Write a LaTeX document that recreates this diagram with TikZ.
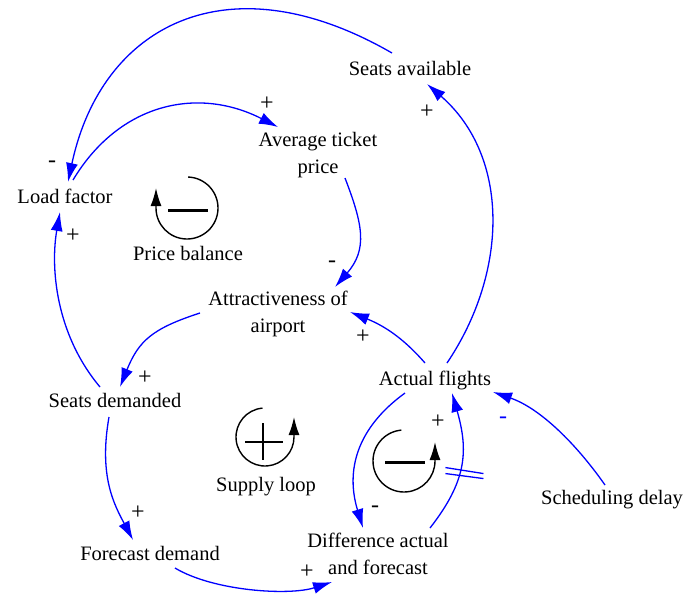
\documentclass[tikz,border=0pt]{standalone}
\usepackage{fontspec}
\setmainfont{Liberation Serif}
\usetikzlibrary{arrows.meta,calc}

\begin{document}
\begin{tikzpicture}[x=1pt, y=1pt,
    var/.style={align=center, inner sep=0pt, font=\fontsize{20.5}{27}\selectfont},
    sign/.style={inner sep=0pt, font=\fontsize{24}{26}\selectfont},
    link/.style={blue, line width=1.3pt, -{Latex[length=19pt,width=12pt]}},
    loopline/.style={line width=1.4pt, -{Latex[length=18pt,width=11pt]}}]
    \useasboundingbox (0,0) rectangle (685,-595);

    % variables
    \node[var] (sa) at (410,-68) {Seats available};
    \node[var] (atp) at (318,-155) {Average ticket\\price};
    \node[var] (lf) at (65,-196) {Load factor};
    \node[var] (att) at (278,-314) {Attractiveness of\\airport};
    \node[var] (af) at (435,-380) {Actual flights};
    \node[var] (sd) at (115,-400) {Seats demanded};
    \node[var] (sdel) at (612,-500) {Scheduling delay};
    \node[var] (fd) at (150,-553) {Forecast demand};
    \node[var] (dif) at (378,-554) {Difference actual\\and forecast};

    % links
    \draw[link] ($(sa)+(-18,15)$) to[out=150, in=78, out distance=190pt, in distance=160pt] ($(lf)+(3,14)$);
    \draw[link] ($(lf)+(8,16)$) to[out=59, in=153, out distance=90pt, in distance=90pt] ($(atp)+(-40,28)$);
    \draw[link] ($(atp)+(27,-23)$) to[out=-69, in=49, out distance=50pt, in distance=50pt] ($(att)+(57,27)$);
    \draw[link] ($(af)+(-10,17)$) to[out=131, in=-22, out distance=35pt, in distance=35pt] ($(att)+(72,2)$);
    \draw[link] ($(af)+(12,17)$) to[out=56, in=-41, out distance=110pt, in distance=110pt] ($(sa)+(17,-16)$);
    \draw[link] ($(att)+(-78,1)$) to[out=198, in=68, out distance=50pt, in distance=50pt] ($(sd)+(5,13)$);
    \draw[link] ($(sd)+(-15,13)$) to[out=130, in=-100, out distance=70pt, in distance=55pt] ($(lf)+(-5,-16)$);
    \draw[link] ($(sd)+(-6,-17)$) to[out=-100, in=118, out distance=60pt, in distance=40pt] ($(fd)+(-17,13)$);
    \draw[link] ($(fd)+(25,-15)$) to[out=-31, in=-162, out distance=45pt, in distance=45pt] ($(dif)+(-46,-28)$);
    \draw[link] ($(af)+(-30,-13)$) to[out=216, in=107, out distance=60pt, in distance=60pt] ($(dif)+(-15,26)$);
    \draw[link] ($(dif)+(52,26)$) to[out=52, in=-74, out distance=60pt, in distance=60pt] coordinate[pos=0.45] (delay) ($(af)+(17,-13)$);
    \draw[link] ($(sdel)+(-7,15)$) to[out=125, in=-19, out distance=50pt, in distance=50pt] ($(af)+(58,-12)$);

    % delay mark
    \draw[blue, line width=1.3pt] ($(delay)+(-14.5,3)$) -- ($(delay)+(23.5,-3)$)
        ($(delay)+(-14.5,-3)$) -- ($(delay)+(23.5,-8)$);

    % polarities
    \node[sign] (s1) at (52,-164) {-};
    \node[sign] (s2) at (267,-104) {+};
    \node[sign] (s3) at (332,-264) {-};
    \node[sign] (s4) at (363,-337) {+};
    \node[sign] (s5) at (427,-112) {+};
    \node[sign] (s6) at (145,-378) {+};
    \node[sign] (s7) at (73,-236) {+};
    \node[sign] (s8) at (138,-513) {+};
    \node[sign] (s9) at (307,-572) {+};
    \node[sign] (s10) at (375,-509) {-};
    \node[sign] (s11) at (438,-422) {+};
    \node[sign, blue] (s12) at (503,-420) {-};

    % loop markers
    \coordinate (pbc) at (187,-208);
    \draw[loopline] ($(pbc)+(88:31)$) arc[start angle=88, end angle=-180, radius=31] -- ++(0,20);
    \draw[line width=3pt] ($(pbc)+(-19,-2)$) -- ++(40,0);
    \node[var] (pb) at (188,-253) {Price balance};

    \coordinate (slc) at (265,-437);
    \draw[loopline] ($(slc)+(95:29)$) arc[start angle=95, end angle=360, radius=29] -- ++(0,20);
    \draw[line width=2.5pt] ($(slc)+(-20,-5)$) -- ++(38,0) ($(slc)+(-2,14)$) -- ++(0,-37);
    \node[var] (sl) at (266,-487) {Supply loop};

    \coordinate (dlc) at (404,-461);
    \draw[loopline] ($(dlc)+(95:31)$) arc[start angle=95, end angle=360, radius=31] -- ++(0,19);
    \draw[line width=3pt] ($(dlc)+(-19,-1)$) -- ++(40,0);
\end{tikzpicture}
\end{document}
